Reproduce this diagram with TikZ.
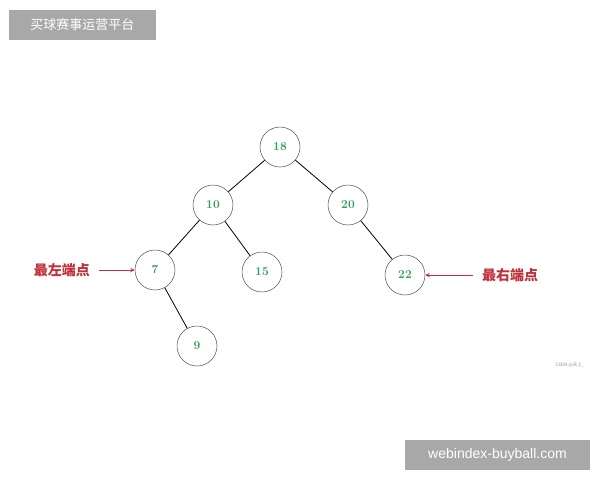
\documentclass[tikz,border=0pt]{standalone}
\usepackage{fontspec}
\newfontfamily\cjk{Noto Sans CJK SC}
\setsansfont{Liberation Sans}
\definecolor{numg}{HTML}{2E9E50}
\definecolor{lab}{HTML}{C0303A}
\definecolor{boxg}{HTML}{A8A8A8}
\begin{document}
\begin{tikzpicture}[x=1pt,y=-1pt,
  tn/.style={circle,draw=black!70,line width=0.5pt,minimum size=40pt,inner sep=0pt,text=numg,font=\bfseries\fontsize{12}{12}\selectfont},
  ed/.style={line width=0.8pt},
  lb/.style={text=lab,font=\cjk\bfseries\fontsize{14}{14}\selectfont},
  ar/.style={-stealth,draw=lab,line width=1pt}]
\useasboundingbox (0,0) rectangle (600,480);
\node[fill=boxg,minimum width=147pt,minimum height=30pt,text=white,font=\cjk\fontsize{13}{13}\selectfont] (t) at (82.5,25) {买球赛事运营平台};
\node[fill=boxg,minimum width=185pt,minimum height=30pt,text=white,font=\sffamily\fontsize{14}{14}\selectfont] (b) at (497.5,455) {webindex-buyball.com};
\node[text=black!45,font=\cjk\fontsize{4.5}{4.5}\selectfont] (w) at (570,365) {CSDN @天上\_};
\node[tn] (n18) at (280,147) {18};
\node[tn] (n10) at (213,205) {10};
\node[tn] (n20) at (348,205) {20};
\node[tn] (n7) at (155,270) {7};
\node[tn] (n15) at (262,272) {15};
\node[tn] (n22) at (405,275) {22};
\node[tn] (n9) at (197,346) {9};
\draw[ed] (n18) -- (n10);
\draw[ed] (n18) -- (n20);
\draw[ed] (n10) -- (n7);
\draw[ed] (n10) -- (n15);
\draw[ed] (n20) -- (n22);
\draw[ed] (n7) -- (n9);
\node[lb] (ll) at (62,270) {最左端点};
\node[lb] (rl) at (510,275) {最右端点};
\draw[ar] (ll.east) ++(5,0) coordinate (la) -- (n7.west);
\draw[ar] (rl.west) ++(-5,0) coordinate (ra) -- (n22.east);
\end{tikzpicture}
\end{document}
